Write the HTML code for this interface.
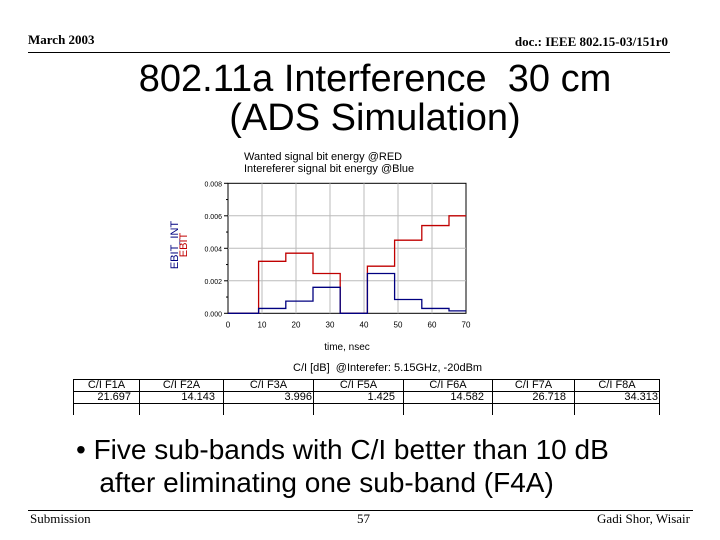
<!DOCTYPE html>
<html><head><meta charset="utf-8"><style>
body{margin:0;width:720px;height:540px;background:#fff;position:relative;overflow:hidden;font-family:"Liberation Sans",sans-serif}
.a{position:absolute;white-space:nowrap}
.s{font-family:"Liberation Serif",serif}
td{border:1px solid #000;font-size:11px;padding:0 1px;height:11px;line-height:11px;text-align:center}
</style></head><body>
<div class="a s" style="left:28px;top:32px;font-size:13px;font-weight:bold">March 2003</div>
<div class="a s" style="right:52px;top:34px;font-size:13px;font-weight:bold">doc.: IEEE 802.15-03/151r0</div>
<div class="a" style="left:28px;top:52px;width:642px;height:1px;background:#000"></div>
<div class="a" style="left:75px;width:600px;top:60px;font-size:38px;text-align:center;line-height:39px;white-space:normal">802.11a Interference&nbsp; 30 cm<br>(ADS Simulation)</div>
<svg class="a" style="left:0;top:0" width="720" height="540">
<g id="g"></g>
</svg>
<div class="a" style="left:293px;top:362px;font-size:11px">C/I [dB]&nbsp; @Interefer: 5.15GHz, -20dBm</div>
<table class="a" style="left:73px;top:379px;width:586px;border-collapse:collapse;table-layout:fixed">
<colgroup><col style="width:66px"><col style="width:84px"><col style="width:90px"><col style="width:90px"><col style="width:89px"><col style="width:82px"><col style="width:85px"></colgroup>
<tr><td>C/I F1A</td><td>C/I F2A</td><td>C/I F3A</td><td>C/I F5A</td><td>C/I F6A</td><td>C/I F7A</td><td>C/I F8A</td></tr>
<tr style="height:12px"><td style="text-align:right;padding-right:8px">21.697</td><td style="text-align:right;padding-right:8px">14.143</td><td style="text-align:right">3.996</td><td style="text-align:right;padding-right:8px">1.425</td><td style="text-align:right;padding-right:8px">14.582</td><td style="text-align:right;padding-right:8px">26.718</td><td style="text-align:right">34.313</td></tr>
<tr><td style="border-bottom:none;height:11px"></td><td style="border-bottom:none"></td><td style="border-bottom:none"></td><td style="border-bottom:none"></td><td style="border-bottom:none"></td><td style="border-bottom:none"></td><td style="border-bottom:none"></td></tr>
</table>
<div class="a" style="left:76px;top:433px;font-size:28px;line-height:33px">• Five sub-bands with C/I better than 10 dB<br>&nbsp;&nbsp; after eliminating one sub-band (F4A)</div>
<div class="a" style="left:28px;top:510px;width:665px;height:1px;background:#000"></div>
<div class="a s" style="left:30px;top:511px;font-size:13px">Submission</div>
<div class="a s" style="left:357px;top:511px;font-size:13px">57</div>
<div class="a s" style="right:30px;top:511px;font-size:13px">Gadi Shor, Wisair</div>
<script>
const edges=[0,9,17,25,33,41,49,57,65,70];
const ebit=[0,0.0032,0.0037,0.00245,0,0.0029,0.0045,0.0054,0.006];
const ebitInt=[0,0.0003,0.00075,0.0016,0,0.00245,0.00085,0.0003,0.00015];
const xTicks=[0,10,20,30,40,50,60,70];
const yTicks=[0,0.002,0.004,0.006,0.008];
const x=v=>228+v*(466-228)/70, y=v=>313.3-v*130/0.008;
const g=document.getElementById('g'),NS='http://www.w3.org/2000/svg';
function el(t,a,txt){const e=document.createElementNS(NS,t);for(const k in a)e.setAttribute(k,a[k]);if(txt!=null)e.textContent=txt;g.appendChild(e);return e;}
let e;
e=el('rect',{x:x(0),y:y(0.008),width:x(70)-x(0),height:y(0)-y(0.008),fill:'#fff',stroke:'#000'});

xTicks.forEach(t=>{if(t>0&&t<70){e=el('line',{x1:x(t),x2:x(t),y1:y(0.008),y2:y(0),stroke:'#bbb'});}
e=el('text',{x:x(t),y:y(0)+14,'font-size':8,'text-anchor':'middle'},t);});
yTicks.forEach(t=>{if(t>0&&t<0.008){e=el('line',{x1:x(0),x2:x(70),y1:y(t),y2:y(t),stroke:'#bbb'});}
e=el('text',{x:x(0)-6,y:y(t)+3,'font-size':7,'text-anchor':'end'},t.toFixed(3));
e=el('line',{x1:x(0)-4,x2:x(0),y1:y(t),y2:y(t),stroke:'#000'});
if(t<0.008){e=el('line',{x1:x(0)-2,x2:x(0),y1:y(t+0.001),y2:y(t+0.001),stroke:'#000'});}});
function step(vals){let d='M'+x(edges[0])+' '+y(vals[0]);vals.forEach((v,i)=>{d+=' L'+x(edges[i])+' '+y(v)+' L'+x(edges[i+1])+' '+y(v);});return d;}
e=el('path',{d:step(ebit),fill:'none',stroke:'#c00000','stroke-width':1.3});
e=el('path',{d:step(ebitInt),fill:'none',stroke:'#000080','stroke-width':1.3});
e=el('text',{x:244,y:160,'font-size':11},'Wanted signal bit energy @RED');
e=el('text',{x:244,y:172,'font-size':11},'Intereferer signal bit energy @Blue');
e=el('text',{x:347,y:350,'font-size':10,'text-anchor':'middle'},'time, nsec');
e=el('text',{x:178,y:245,'font-size':11,fill:'#000080','text-anchor':'middle',transform:'rotate(-90 178 245)'},'EBIT_INT');
e=el('text',{x:187,y:245,'font-size':11,fill:'#c00000','text-anchor':'middle',transform:'rotate(-90 187 245)'},'EBIT');
</script>
</body></html>
